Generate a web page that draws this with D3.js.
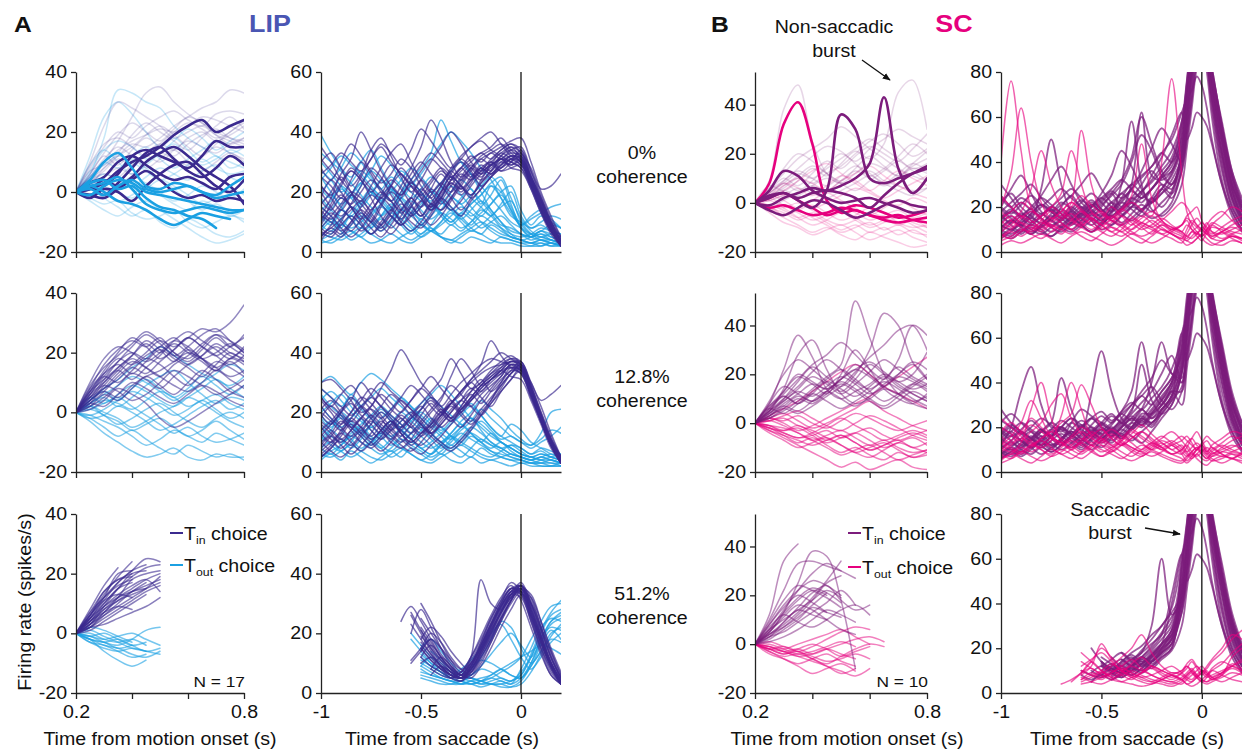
<!DOCTYPE html>
<html>
<head>
<meta charset="utf-8">
<script src="https://cdn.jsdelivr.net/npm/d3@7"></script>
<style>
  body { margin: 0; background: #fff; }
  svg { display: block; font-family: "Liberation Sans", Arial, Helvetica, sans-serif; }
</style>
</head>
<body>
<svg id="chart" width="1242" height="754"></svg>
<script>
// ---- time grids and ticks ----
const motionTimes = [0.2, 0.25, 0.3, 0.35, 0.4, 0.45, 0.5, 0.55, 0.6, 0.65, 0.7, 0.75, 0.8]
const lipSaccadeTimes = [-1, -0.95, -0.9, -0.85, -0.8, -0.75, -0.7, -0.65, -0.6, -0.55, -0.5, -0.45, -0.4,
  -0.35, -0.3, -0.25, -0.2, -0.15, -0.1, -0.05, 0, 0.05, 0.1, 0.15, 0.2]
const scSaccadeTimes = [-1, -0.95, -0.9, -0.85, -0.8, -0.75, -0.7, -0.65, -0.6, -0.55, -0.5, -0.45, -0.4,
  -0.35, -0.3, -0.25, -0.2, -0.15, -0.1, -0.075, -0.05, -0.025, 0, 0.025, 0.05, 0.1, 0.15, 0.2]

const motionXTicks = [0.2, 0.4, 0.6, 0.8]
const motionXLabels = ['0.2', '', '', '0.8']
const saccadeXTicks = [-1, -0.5, 0]
const saccadeXLabels = ['-1', '-0.5', '0']
const lipMotionYTicks = [-20, 0, 20, 40]
const lipSaccadeYTicks = [0, 20, 40, 60]
const scMotionYTicks = [-20, 0, 20, 40]
const scSaccadeYTicks = [0, 20, 40, 60, 80]
const coherenceLabels = ['0%', '12.8%', '51.2%']

// ---- 0% coherence ----
const lip0MotionTinBold = [
  [0, 1, 3, 7, 10, 12, 15, 19, 22, 24, 20, 22, 24],
  [0, -1, 2, 6, 12, 14, 12, 10, 8, 12, 17, 15, 15],
  [0, 2, -1, 3, 8, 13, 15, 11, 7, 5, 8, 12, 9],
  [0, -2, 1, 0, -3, 2, 6, 9, 10, 6, 2, 0, 4],
  [0, 1, 4, 2, 5, 10, 13, 15, 12, 8, 5, 2, -4],
  [0, 3, 5, 10, 12, 9, 6, 4, 5, 3, 1, 5, 6],
  [0, -1, -2, 1, 4, 7, 4, 0, -2, -1, -3, -2, -3],
]
const lip0MotionToutBold = [
  [0, 4, 10, 13, 8, 2, 1, 3, 2, 0, -1, 2, 5],
  [0, 2, 0, -3, -4, -6, -9, -11, -9, -7, -8, -9],
  [0, 3, 4, 1, 2, -2, -5, -6, -8, -9, -12],
  [0, -1, 2, 4, 3, 0, -1, -2, -3, -4, -5, -6, -6],
  [0, 1, -1, 2, 4, 1, 0, 1, 2, 0, -2, -1, 0],
  [0, 2, 3, 5, 1, -4, -6, -7, -6, -5, -6, -7, -6],
]
const lip0MotionTin = [
  [0, 8, 15, 20, 18, 22, 25, 27, 24, 22, 26, 27, 26],
  [0, 5, 10, 14, 17, 19, 21, 20, 22, 25, 24, 22, 20],
  [0, 10, 22, 30, 28, 25, 22, 18, 20, 22, 19, 17, 15],
  [0, 4, 8, 12, 16, 15, 18, 22, 25, 28, 30, 34, 33],
  [0, 3, 7, 11, 9, 13, 16, 14, 18, 20, 17, 19, 22],
  [0, 6, 12, 9, 14, 18, 15, 12, 16, 19, 21, 18, 16],
  [0, 2, 5, 8, 6, 10, 13, 11, 9, 12, 15, 13, 11],
  [0, 7, 9, 13, 19, 23, 20, 17, 14, 18, 22, 25, 21],
  [0, 4, 6, 5, 9, 12, 10, 14, 17, 15, 13, 16, 18],
  [0, 9, 16, 18, 15, 12, 16, 20, 23, 21, 18, 20, 24],
  [0, 3, 10, 17, 25, 33, 35, 30, 26, 23, 20, 18, 17],
  [0, 5, 11, 15, 12, 8, 11, 14, 10, 7, 10, 13, 10],
  [0, 6, 13, 19, 23, 20, 17, 21, 25, 23, 19, 16, 18],
  [0, 2, 8, 12, 15, 19, 22, 19, 15, 12, 16, 20, 23],
]
const lip0MotionTout = [
  [0, 12, 25, 30, 26, 20, 15, 18, 14, 10, 12, 8, 10],
  [0, 6, 18, 34, 33, 30, 28, 22, 18, 15, 12, 10, 8],
  [0, 2, -2, -5, -8, -6, -10, -12, -9, -11, -14, -15, -13],
  [0, 3, 6, 4, 2, 5, 8, 6, 4, 7, 9, 5, 3],
  [0, -2, -4, -3, -7, -9, -8, -6, -10, -12, -10, -8, -9],
  [0, 5, 9, 12, 10, 7, 4, 6, 9, 11, 8, 6, 7],
  [0, 1, -1, 2, 5, 3, 0, -3, -1, 2, 0, -2, 1],
  [0, -3, -6, -8, -5, -3, -6, -9, -12, -15, -17, -16, -14],
  [0, 4, 2, 0, -2, 1, 4, 2, -1, -4, -2, 1, -1],
  [0, 7, 14, 17, 15, 11, 13, 16, 12, 9, 11, 14, 12],
  [0, 9, 14, 10, 6, 9, 13, 17, 21, 18, 14, 17, 20],
  [0, -1, 3, 7, 11, 8, 4, 1, -3, -6, -4, -7, -10],
  [0, 5, 10, 8, 12, 15, 11, 8, 11, 14, 17, 13, 15],
  [0, -2, 1, -3, -1, 2, -1, -4, -6, -3, -5, -8, -6],
]
const lip0SaccadeTin = [
  [12, 18, 25, 20, 14, 10, 15, 22, 28, 24, 18, 15, 20, 26, 30, 27, 22, 25, 29, 31, 33, 25, 17, 9, 3],
  [30, 33, 28, 22, 26, 34, 38, 32, 25, 20, 24, 30, 35, 40, 36, 30, 27, 29, 31, 33, 32, 24, 16, 9, 4],
  [8, 6, 10, 15, 12, 8, 5, 9, 14, 18, 13, 9, 12, 17, 22, 26, 24, 27, 30, 29, 30, 23, 15, 8, 2],
  [20, 15, 12, 16, 22, 28, 25, 19, 14, 10, 8, 12, 18, 24, 28, 31, 33, 35, 38, 34, 31, 24, 17, 10, 5],
  [5, 9, 14, 11, 7, 10, 16, 20, 17, 12, 15, 21, 26, 22, 19, 23, 28, 30, 27, 28, 29, 22, 14, 7, 2],
  [25, 22, 18, 24, 30, 26, 20, 17, 22, 28, 35, 44, 38, 30, 25, 28, 32, 34, 36, 33, 30, 23, 15, 8, 3],
  [15, 12, 8, 5, 8, 13, 18, 15, 10, 7, 10, 15, 20, 25, 22, 18, 21, 25, 28, 30, 32, 25, 18, 10, 4],
  [10, 16, 22, 27, 24, 18, 12, 8, 12, 18, 24, 20, 16, 20, 25, 29, 26, 28, 32, 35, 31, 24, 16, 9, 3],
  [35, 30, 24, 20, 17, 22, 28, 33, 36, 30, 24, 20, 23, 28, 32, 35, 38, 40, 36, 32, 30, 22, 15, 8, 4],
  [18, 24, 20, 15, 10, 6, 9, 14, 20, 26, 30, 26, 22, 18, 14, 18, 24, 29, 33, 31, 29, 24, 17, 9, 4],
  [8, 12, 16, 20, 18, 14, 19, 24, 21, 16, 12, 16, 22, 27, 31, 28, 25, 29, 31, 30, 28, 22, 14, 7, 3],
  [22, 18, 14, 19, 25, 31, 35, 30, 26, 22, 18, 14, 17, 22, 26, 24, 27, 31, 34, 36, 33, 28, 21, 22, 26],
  [12, 10, 7, 10, 15, 19, 16, 12, 9, 12, 17, 21, 18, 14, 17, 22, 26, 29, 27, 30, 34, 27, 19, 11, 5],
  [28, 24, 30, 36, 32, 27, 23, 26, 31, 28, 22, 18, 14, 18, 23, 27, 31, 33, 35, 37, 38, 30, 20, 12, 5],
  [6, 8, 11, 14, 17, 13, 9, 6, 10, 15, 20, 24, 28, 25, 21, 24, 28, 26, 29, 32, 31, 23, 15, 8, 3],
  [16, 20, 26, 31, 40, 34, 27, 22, 19, 24, 29, 33, 30, 26, 22, 19, 23, 27, 31, 28, 27, 21, 13, 6, 2],
  [4, 7, 5, 9, 13, 10, 7, 11, 16, 13, 9, 13, 18, 15, 12, 17, 21, 25, 28, 31, 29, 22, 14, 7, 3],
  [26, 29, 33, 30, 27, 31, 36, 33, 29, 34, 41, 37, 32, 28, 31, 35, 37, 34, 32, 30, 28, 21, 13, 7, 2],
  [14, 11, 15, 19, 16, 12, 9, 13, 18, 22, 19, 15, 18, 23, 21, 25, 28, 26, 30, 32, 30, 22, 14, 7, 3],
  [9, 13, 10, 7, 11, 16, 20, 17, 13, 16, 21, 18, 22, 27, 24, 28, 31, 29, 32, 34, 32, 24, 15, 8, 3],
  [22, 19, 23, 27, 24, 20, 24, 29, 26, 22, 19, 23, 27, 25, 28, 32, 30, 33, 31, 34, 35, 27, 18, 10, 4],
  [5, 8, 6, 10, 14, 11, 8, 12, 9, 13, 17, 14, 19, 23, 20, 24, 27, 30, 28, 31, 30, 23, 14, 7, 2],
  [31, 27, 24, 28, 25, 21, 18, 22, 26, 23, 27, 31, 28, 24, 27, 30, 33, 31, 34, 36, 34, 26, 17, 9, 3],
  [17, 14, 18, 15, 11, 14, 18, 22, 19, 23, 20, 16, 20, 24, 28, 25, 29, 27, 31, 29, 31, 25, 18, 10, 4],
  [11, 15, 19, 16, 20, 24, 21, 17, 14, 18, 15, 19, 23, 20, 24, 28, 26, 30, 33, 35, 33, 25, 16, 8, 3],
  [7, 5, 9, 12, 9, 6, 10, 14, 11, 15, 12, 16, 14, 18, 22, 19, 23, 26, 29, 32, 31, 24, 15, 8, 3],
]
const lip0SaccadeTout = [
  [39, 33, 28, 25, 30, 34, 28, 22, 18, 22, 26, 31, 36, 40, 37, 33, 28, 24, 18, 12, 10, 8, 9, 7, 6],
  [10, 14, 18, 15, 11, 8, 12, 16, 13, 9, 6, 9, 13, 11, 8, 10, 14, 12, 8, 5, 4, 3, 4, 3, 2],
  [25, 20, 16, 19, 23, 27, 32, 29, 24, 20, 17, 14, 18, 22, 19, 15, 12, 16, 20, 22, 14, 9, 12, 10, 8],
  [4, 6, 9, 7, 5, 8, 11, 9, 6, 4, 6, 8, 5, 3, 5, 7, 6, 4, 3, 3, 2, 2, 3, 2, 2],
  [30, 26, 22, 18, 22, 27, 24, 20, 15, 12, 15, 19, 23, 27, 30, 26, 20, 14, 10, 7, 6, 5, 6, 4, 3],
  [15, 12, 9, 13, 17, 21, 18, 14, 11, 15, 19, 16, 12, 9, 12, 16, 19, 23, 25, 18, 11, 7, 5, 6, 5],
  [20, 24, 28, 33, 30, 25, 21, 17, 20, 24, 28, 33, 44, 37, 30, 26, 22, 18, 14, 10, 8, 6, 7, 9, 8],
  [8, 11, 7, 4, 6, 9, 12, 15, 11, 8, 5, 7, 10, 13, 10, 7, 9, 12, 15, 17, 10, 6, 4, 3, 3],
  [33, 30, 27, 23, 19, 15, 12, 15, 19, 23, 20, 16, 13, 10, 13, 16, 19, 22, 18, 13, 9, 11, 13, 15, 16],
  [12, 9, 14, 19, 23, 20, 16, 12, 9, 6, 9, 12, 16, 20, 24, 21, 17, 13, 9, 8, 6, 4, 5, 4, 3],
  [6, 5, 4, 6, 8, 6, 4, 3, 5, 7, 9, 7, 5, 4, 6, 8, 10, 8, 6, 5, 4, 3, 3, 2, 3],
  [24, 28, 32, 29, 26, 22, 19, 23, 27, 24, 20, 17, 21, 25, 22, 18, 15, 12, 16, 20, 12, 8, 10, 12, 11],
  [18, 14, 11, 8, 10, 13, 16, 20, 24, 28, 25, 21, 17, 14, 11, 14, 17, 14, 10, 6, 4, 5, 7, 6, 5],
  [3, 4, 6, 9, 12, 10, 8, 11, 14, 12, 9, 7, 9, 12, 15, 13, 10, 7, 5, 4, 3, 3, 2, 3, 2],
  [14, 17, 21, 18, 15, 19, 24, 21, 17, 13, 16, 20, 17, 14, 18, 21, 16, 22, 20, 14, 9, 12, 14, 11, 8],
  [9, 7, 11, 15, 13, 10, 7, 10, 14, 17, 14, 11, 14, 18, 16, 12, 15, 19, 24, 16, 8, 5, 7, 5, 4],
  [13, 10, 14, 11, 8, 12, 15, 12, 9, 13, 10, 7, 10, 14, 11, 8, 6, 9, 7, 5, 4, 3, 4, 3, 2],
  [21, 18, 22, 19, 16, 20, 17, 14, 18, 15, 12, 16, 13, 10, 13, 11, 8, 10, 12, 9, 6, 5, 6, 5, 4],
  [7, 10, 8, 12, 9, 6, 9, 13, 10, 7, 11, 8, 6, 9, 7, 10, 13, 16, 19, 14, 8, 5, 4, 4, 3],
  [16, 19, 15, 12, 16, 20, 17, 21, 18, 14, 11, 14, 18, 15, 12, 9, 12, 10, 8, 6, 5, 6, 8, 7, 6],
  [4, 3, 5, 7, 5, 3, 4, 6, 4, 3, 5, 7, 5, 4, 3, 5, 4, 3, 5, 4, 3, 2, 2, 3, 2],
  [27, 24, 20, 23, 27, 24, 21, 25, 22, 18, 21, 25, 22, 19, 16, 19, 22, 25, 21, 15, 9, 6, 5, 4, 3],
]
const sc0MotionTinBold = [
  [0, 2, 4, 1, -2, 5, 36, 30, 10, 8, 10, 12, 14],
  [0, -1, 2, 4, 6, 5, 7, 10, 16, 43, 14, 4, 10],
  [0, 5, 13, 11, 5, 2, 0, 1, 2, 0, -2, -4, -3],
  [0, 3, 4, 2, 4, 5, 4, 2, -2, 3, 8, 12, 15],
  [0, -3, -5, -2, 1, 0, -3, -6, -4, -1, 1, -1, -2],
]
const sc0MotionToutBold = [
  [0, 8, 32, 41, 24, 1, -4, -3, -5, -6, -5, -7, -8],
  [0, -2, -1, -3, -5, -4, -2, -3, -5, -7, -8, -7, -6],
  [0, 2, 4, 1, -2, -5, -3, -1, -2, -4, -6, -5, -3],
]
const sc0MotionTin = [
  [0, 9, 38, 48, 25, 12, 8, 10, 13, 9, 7, 5, 6],
  [0, 4, 9, 14, 19, 23, 21, 17, 22, 26, 30, 27, 24],
  [0, 6, 12, 18, 22, 26, 31, 27, 22, 18, 14, 11, 9],
  [0, 3, 6, 10, 8, 12, 15, 20, 25, 28, 24, 19, 22],
  [0, 5, 10, 7, 12, 17, 14, 19, 23, 20, 17, 22, 28],
  [0, 2, 5, 3, 7, 10, 8, 12, 16, 14, 11, 15, 18],
  [0, 7, 5, 9, 14, 11, 16, 21, 18, 24, 45, 50, 30],
  [0, 4, 8, 12, 10, 14, 18, 22, 26, 22, 18, 14, 16],
  [0, 1, 3, 6, 4, 2, 5, 8, 11, 8, 5, 3, 6],
  [0, -2, 1, 4, 7, 5, 9, 13, 10, 7, 10, 14, 12],
  [0, 6, 14, 20, 17, 12, 9, 14, 19, 15, 11, 16, 21],
  [0, 3, 8, 5, 9, 15, 20, 16, 11, 14, 19, 24, 20],
  [0, 5, 9, 13, 10, 7, 11, 15, 12, 8, 12, 16, 13],
  [0, 2, 7, 11, 15, 12, 8, 5, 9, 13, 17, 13, 9],
]
const sc0MotionTout = [
  [0, -3, -6, -9, -12, -10, -13, -15, -12, -14, -16, -18, -17],
  [0, -2, -4, -7, -5, -8, -11, -9, -12, -10, -13, -11, -14],
  [0, 2, -1, -4, -7, -5, -3, -6, -9, -7, -5, -8, -10],
  [0, -1, -5, -3, -6, -9, -12, -10, -8, -11, -9, -12, -13],
  [0, 3, 7, 10, 8, 5, 9, 12, 15, 11, 7, 4, 2],
  [0, 1, 3, 1, -2, 0, 3, 6, 4, 1, -1, 2, 0],
  [0, -4, -8, -10, -13, -11, -9, -12, -15, -13, -11, -14, -16],
  [0, 4, 8, 6, 3, 7, 11, 9, 5, 2, 5, 8, 11],
  [0, -1, -2, 0, -3, -5, -2, -4, -7, -5, -3, -6, -4],
  [0, 2, 5, 9, 13, 16, 12, 8, 5, 9, 13, 10, 7],
  [0, -2, -5, -3, -1, -4, -7, -5, -2, -4, -8, -10, -9],
  [0, 1, -2, -6, -9, -7, -4, -7, -10, -8, -6, -9, -12],
  [0, 3, 1, -2, 1, 4, 1, -2, -5, -2, 1, -2, -5],
  [0, -1, -3, -6, -4, -7, -9, -7, -4, -6, -9, -7, -10],
]
const sc0SaccadeTin = [
  [12, 10, 14, 18, 15, 11, 9, 13, 17, 14, 10, 12, 16, 20, 18, 15, 17, 22, 38, 55, 78, 98, 96, 86, 68, 40, 22, 12],
  [20, 28, 34, 26, 18, 14, 20, 25, 19, 15, 12, 18, 24, 30, 26, 22, 28, 35, 48, 66, 88, 102, 98, 90, 74, 46, 26, 15],
  [8, 6, 9, 12, 10, 7, 11, 15, 12, 9, 13, 17, 30, 58, 30, 19, 16, 20, 30, 46, 64, 82, 90, 88, 78, 52, 30, 18],
  [15, 18, 22, 19, 25, 32, 38, 30, 22, 18, 14, 20, 26, 22, 18, 24, 30, 28, 45, 62, 85, 100, 92, 80, 60, 32, 18, 10],
  [10, 14, 11, 8, 12, 16, 13, 10, 14, 18, 22, 26, 20, 30, 62, 34, 32, 36, 52, 70, 92, 105, 100, 92, 76, 48, 28, 16],
  [30, 24, 18, 15, 28, 50, 30, 18, 15, 20, 26, 34, 45, 38, 28, 22, 26, 32, 42, 56, 74, 90, 92, 84, 66, 38, 20, 12],
  [18, 22, 26, 30, 24, 19, 15, 18, 22, 26, 22, 18, 22, 28, 36, 46, 55, 48, 40, 52, 68, 84, 90, 86, 72, 44, 24, 14],
  [6, 9, 12, 10, 8, 11, 14, 18, 15, 12, 16, 20, 17, 14, 18, 24, 20, 26, 40, 58, 80, 96, 98, 90, 74, 50, 30, 20],
  [22, 26, 20, 16, 13, 17, 21, 25, 30, 35, 28, 22, 18, 22, 27, 32, 38, 45, 58, 72, 90, 104, 102, 94, 80, 54, 32, 18],
  [12, 10, 13, 17, 21, 18, 15, 12, 16, 20, 24, 20, 16, 20, 26, 34, 42, 52, 62, 50, 55, 62, 60, 56, 48, 30, 18, 10],
  [16, 12, 9, 13, 17, 14, 11, 15, 19, 23, 19, 15, 19, 24, 30, 36, 30, 26, 36, 52, 72, 94, 100, 94, 82, 56, 34, 20],
  [9, 13, 17, 14, 11, 15, 19, 16, 13, 17, 21, 25, 30, 40, 52, 45, 34, 30, 44, 64, 86, 100, 94, 84, 64, 36, 20, 12],
  [14, 18, 15, 12, 16, 20, 17, 14, 18, 22, 19, 16, 20, 24, 22, 28, 34, 40, 55, 75, 96, 108, 104, 96, 80, 50, 28, 15],
  [25, 20, 16, 20, 24, 21, 17, 13, 17, 21, 18, 22, 26, 30, 34, 38, 44, 50, 62, 68, 72, 78, 74, 64, 50, 30, 16, 9],
  [10, 8, 11, 15, 12, 9, 12, 16, 20, 17, 14, 18, 22, 19, 16, 22, 28, 24, 36, 50, 68, 88, 96, 92, 80, 58, 36, 22],
  [19, 15, 12, 16, 20, 24, 28, 24, 20, 16, 20, 26, 32, 42, 60, 48, 36, 30, 42, 60, 82, 98, 96, 86, 70, 44, 24, 13],
  [11, 14, 12, 9, 12, 15, 18, 15, 12, 9, 12, 16, 13, 17, 21, 18, 22, 27, 44, 64, 86, 100, 98, 90, 76, 50, 30, 18],
  [17, 13, 16, 19, 15, 12, 15, 19, 23, 19, 16, 19, 23, 27, 24, 28, 33, 38, 52, 70, 92, 104, 100, 92, 78, 52, 32, 20],
  [7, 10, 8, 11, 9, 7, 10, 13, 11, 14, 17, 14, 12, 15, 19, 22, 26, 30, 40, 58, 80, 98, 98, 92, 78, 54, 34, 22],
  [24, 20, 24, 21, 17, 20, 24, 28, 24, 20, 23, 27, 24, 28, 33, 38, 44, 40, 50, 68, 90, 102, 96, 88, 70, 42, 24, 14],
  [13, 16, 13, 17, 21, 18, 14, 17, 14, 18, 15, 12, 16, 20, 24, 28, 33, 36, 48, 66, 86, 100, 100, 94, 82, 56, 34, 20],
  [9, 7, 10, 8, 11, 14, 11, 9, 12, 15, 13, 16, 19, 22, 19, 23, 28, 34, 46, 64, 84, 98, 100, 94, 80, 56, 36, 24],
  [20, 17, 21, 25, 21, 18, 22, 19, 16, 20, 24, 28, 32, 28, 24, 28, 34, 40, 56, 74, 94, 104, 98, 88, 70, 44, 26, 15],
  [15, 19, 16, 13, 16, 19, 16, 20, 17, 21, 18, 22, 19, 23, 27, 31, 36, 42, 58, 76, 96, 106, 102, 94, 78, 50, 28, 16],
]
const sc0SaccadeTout = [
  [40, 76, 45, 20, 15, 12, 10, 14, 18, 15, 12, 9, 12, 15, 12, 10, 8, 10, 12, 14, 10, 8, 7, 9, 11, 10, 8, 6],
  [20, 35, 64, 40, 22, 15, 18, 22, 18, 14, 10, 13, 16, 13, 10, 12, 15, 12, 9, 7, 6, 8, 10, 8, 6, 5, 7, 5],
  [10, 14, 18, 28, 45, 30, 20, 15, 12, 15, 18, 14, 11, 8, 11, 14, 11, 8, 6, 5, 4, 6, 8, 10, 12, 9, 6, 4],
  [8, 6, 9, 12, 10, 13, 16, 22, 54, 30, 18, 15, 19, 25, 48, 24, 14, 11, 9, 7, 9, 11, 13, 11, 9, 8, 10, 12],
  [15, 18, 22, 19, 16, 20, 26, 45, 30, 18, 15, 20, 16, 12, 15, 18, 14, 10, 12, 16, 18, 20, 14, 10, 8, 11, 14, 16],
  [5, 7, 10, 8, 6, 9, 12, 10, 7, 5, 8, 11, 9, 6, 4, 7, 10, 8, 5, 3, 4, 6, 8, 6, 4, 3, 5, 4],
  [12, 16, 13, 10, 14, 18, 15, 20, 25, 21, 17, 14, 18, 22, 19, 16, 40, 77, 35, 18, 12, 9, 7, 10, 13, 11, 9, 8],
  [3, 5, 4, 6, 8, 6, 4, 7, 9, 7, 5, 3, 5, 8, 6, 4, 6, 9, 12, 15, 13, 11, 9, 12, 15, 18, 14, 10],
  [18, 14, 11, 9, 12, 15, 13, 10, 13, 17, 14, 11, 9, 12, 16, 13, 10, 8, 6, 10, 14, 12, 10, 8, 12, 16, 20, 18],
  [7, 10, 13, 11, 9, 12, 10, 8, 11, 15, 12, 9, 7, 10, 13, 11, 14, 18, 22, 20, 16, 12, 10, 13, 9, 6, 8, 10],
  [25, 20, 16, 13, 16, 20, 17, 14, 11, 9, 11, 14, 12, 9, 7, 9, 12, 9, 7, 5, 7, 9, 6, 4, 3, 5, 7, 6],
  [9, 12, 16, 14, 11, 14, 18, 22, 19, 15, 12, 15, 19, 16, 13, 11, 8, 6, 4, 8, 12, 15, 12, 9, 7, 9, 12, 14],
  [6, 9, 7, 10, 13, 11, 8, 12, 15, 12, 9, 7, 10, 14, 11, 8, 12, 10, 8, 6, 9, 7, 5, 8, 6, 9, 11, 9],
  [14, 11, 15, 18, 14, 11, 14, 17, 13, 10, 13, 16, 13, 10, 13, 16, 13, 11, 9, 12, 10, 8, 11, 9, 7, 9, 7, 6],
]

// ---- 12.8% coherence ----
const lip128MotionTin = [
  [0, 8, 16, 21, 24, 22, 25, 20, 18, 22, 26, 24, 21],
  [0, 5, 11, 17, 22, 26, 23, 19, 22, 26, 28, 24, 20],
  [0, 10, 18, 22, 20, 17, 20, 24, 22, 18, 15, 18, 21],
  [0, 3, 7, 12, 16, 20, 24, 22, 25, 28, 27, 30, 36],
  [0, 6, 10, 14, 11, 15, 19, 23, 20, 17, 14, 18, 16],
  [0, 2, 5, 9, 13, 11, 8, 12, 16, 19, 22, 19, 17],
  [0, 7, 12, 10, 14, 18, 16, 12, 9, 13, 17, 15, 12],
  [0, 4, 8, 13, 17, 15, 12, 9, 7, 10, 14, 11, 8],
  [0, 9, 15, 19, 23, 27, 24, 20, 17, 21, 25, 22, 26],
  [0, 3, 2, 6, 10, 8, 5, 3, 6, 9, 7, 4, 2],
  [0, 5, 9, 7, 4, 6, 10, 14, 12, 9, 6, 8, 11],
  [0, 1, 4, 8, 6, 3, -2, -5, -3, 0, 3, 6, 9],
  [0, 6, 13, 18, 16, 19, 22, 25, 21, 18, 20, 23, 20],
  [0, 4, 7, 5, 9, 12, 14, 17, 20, 18, 15, 12, 14],
  [0, 7, 14, 20, 25, 22, 18, 21, 25, 22, 19, 16, 19],
  [0, 2, 6, 4, 8, 12, 9, 6, 10, 14, 11, 7, 5],
  [0, 6, 12, 17, 20, 18, 22, 19, 16, 19, 23, 20, 18],
  [0, 4, 10, 15, 19, 23, 20, 24, 27, 24, 21, 18, 22],
  [0, 8, 13, 16, 13, 17, 21, 18, 15, 12, 16, 20, 17],
  [0, 5, 8, 11, 15, 13, 17, 21, 25, 22, 19, 22, 25],
  [0, 3, 9, 14, 18, 15, 12, 16, 19, 23, 26, 22, 19],
  [0, 7, 11, 15, 19, 24, 21, 17, 21, 18, 14, 17, 13],
]
const lip128MotionTout = [
  [0, 2, 4, 3, 1, 4, 7, 5, 2, 4, 6, 3, 1],
  [0, -2, -5, -8, -6, -9, -12, -14, -11, -13, -15, -14, -16],
  [0, 3, 6, 9, 12, 10, 7, 4, 7, 10, 13, 16, 14],
  [0, -1, -3, -5, -8, -11, -9, -6, -8, -10, -7, -9, -11],
  [0, 1, -1, -4, -2, 1, 3, 0, -3, -5, -2, 0, -2],
  [0, 4, 8, 11, 15, 18, 22, 19, 16, 13, 11, 9, 12],
  [0, -3, -7, -10, -13, -15, -14, -12, -15, -16, -14, -15, -15],
  [0, 2, 0, -2, -5, -3, 0, 2, 5, 3, 0, -3, -5],
  [0, 5, 3, 6, 9, 7, 4, 2, 5, 8, 11, 8, 5],
  [0, -2, -1, 2, 0, -3, -6, -4, -1, 2, 4, 1, 3],
  [0, 1, 3, 5, 2, -1, -4, -7, -5, -8, -10, -9, -7],
  [0, 3, 5, 2, 5, 9, 12, 14, 10, 6, 3, 5, 4],
  [0, -1, 1, 4, 7, 5, 2, -1, 1, 4, 1, -2, 0],
  [0, 2, -1, -3, -6, -4, -2, -5, -8, -6, -3, -6, -9],
  [0, 4, 7, 4, 8, 11, 8, 5, 8, 12, 9, 6, 9],
]
const lip128SaccadeTin = [
  [30, 31, 28, 24, 20, 22, 28, 34, 41, 36, 30, 26, 22, 26, 30, 33, 36, 38, 37, 36, 34, 26, 18, 10, 4],
  [12, 16, 20, 25, 22, 18, 14, 11, 15, 19, 23, 27, 31, 38, 33, 28, 30, 33, 35, 37, 36, 28, 19, 10, 4],
  [20, 17, 14, 18, 22, 19, 15, 12, 9, 7, 10, 14, 18, 22, 19, 16, 20, 24, 29, 33, 35, 27, 19, 11, 5],
  [8, 12, 16, 20, 24, 28, 25, 21, 18, 15, 12, 15, 19, 23, 27, 31, 34, 37, 40, 38, 35, 27, 18, 10, 4],
  [15, 11, 8, 11, 14, 18, 22, 26, 23, 19, 16, 12, 9, 7, 10, 14, 19, 24, 30, 35, 34, 26, 17, 9, 3],
  [5, 8, 12, 16, 13, 10, 7, 10, 14, 18, 22, 18, 15, 18, 22, 27, 31, 27, 30, 34, 33, 25, 17, 9, 3],
  [25, 22, 26, 29, 25, 21, 18, 21, 25, 29, 26, 22, 19, 23, 27, 31, 36, 44, 39, 35, 33, 25, 17, 9, 4],
  [10, 7, 5, 8, 12, 16, 20, 17, 14, 11, 9, 12, 16, 20, 24, 28, 25, 22, 27, 31, 35, 30, 24, 26, 29],
  [18, 22, 19, 15, 12, 9, 12, 16, 20, 24, 28, 32, 28, 24, 20, 17, 21, 25, 29, 33, 36, 28, 19, 11, 5],
  [6, 9, 13, 17, 15, 12, 16, 20, 24, 21, 17, 13, 10, 8, 11, 15, 19, 23, 27, 31, 34, 27, 18, 10, 4],
  [22, 18, 15, 12, 15, 19, 16, 13, 10, 13, 17, 21, 25, 29, 26, 22, 19, 23, 28, 33, 36, 29, 20, 12, 5],
  [14, 17, 21, 24, 30, 26, 22, 19, 16, 13, 16, 20, 24, 32, 38, 34, 29, 31, 34, 37, 35, 27, 18, 10, 4],
  [9, 12, 9, 6, 9, 13, 17, 14, 11, 8, 6, 9, 12, 16, 20, 24, 27, 30, 33, 35, 33, 26, 17, 9, 3],
  [28, 25, 22, 19, 22, 26, 30, 27, 24, 21, 18, 15, 19, 23, 27, 30, 33, 35, 36, 37, 37, 30, 22, 13, 5],
  [16, 13, 10, 14, 18, 22, 26, 23, 20, 24, 28, 25, 21, 18, 15, 19, 24, 28, 32, 36, 34, 26, 18, 10, 4],
  [24, 20, 16, 20, 25, 23, 19, 15, 12, 16, 21, 25, 22, 18, 21, 25, 29, 32, 34, 32, 31, 24, 16, 8, 3],
  [13, 10, 14, 18, 15, 11, 14, 17, 13, 10, 13, 16, 19, 23, 20, 24, 28, 31, 34, 37, 36, 28, 19, 10, 4],
  [21, 24, 20, 17, 21, 25, 22, 18, 15, 18, 21, 24, 20, 17, 21, 25, 29, 32, 35, 38, 37, 29, 20, 11, 4],
  [7, 10, 13, 10, 7, 10, 14, 17, 13, 9, 12, 16, 20, 17, 21, 24, 28, 31, 33, 36, 35, 27, 18, 9, 3],
  [17, 14, 11, 14, 18, 21, 18, 14, 17, 20, 16, 13, 16, 20, 24, 27, 30, 34, 37, 39, 36, 27, 17, 9, 3],
  [10, 13, 17, 14, 10, 8, 11, 15, 19, 16, 13, 16, 20, 23, 26, 30, 27, 31, 34, 35, 34, 26, 17, 9, 3],
  [25, 21, 18, 15, 18, 14, 11, 14, 18, 15, 19, 23, 20, 24, 21, 25, 29, 33, 36, 38, 36, 28, 18, 10, 4],
  [5, 8, 11, 9, 13, 17, 14, 10, 8, 11, 15, 13, 17, 21, 24, 22, 26, 29, 32, 36, 35, 27, 18, 10, 4],
  [19, 16, 20, 23, 19, 16, 13, 16, 13, 10, 13, 17, 21, 18, 22, 26, 23, 27, 31, 34, 37, 29, 19, 11, 5],
]
const lip128SaccadeTout = [
  [20, 23, 26, 22, 18, 15, 18, 21, 25, 22, 18, 15, 12, 9, 12, 15, 13, 10, 8, 6, 5, 4, 5, 4, 3],
  [10, 14, 18, 15, 12, 9, 12, 16, 20, 17, 14, 11, 8, 11, 15, 18, 16, 13, 10, 8, 6, 5, 6, 5, 4],
  [26, 22, 19, 16, 13, 10, 13, 17, 14, 11, 8, 6, 9, 12, 10, 8, 6, 5, 7, 9, 8, 6, 8, 7, 6],
  [5, 7, 9, 12, 10, 8, 6, 8, 11, 9, 7, 5, 7, 10, 13, 11, 9, 7, 5, 4, 3, 3, 2, 2, 2],
  [30, 32, 29, 26, 30, 33, 31, 28, 25, 22, 19, 16, 13, 11, 14, 17, 21, 18, 15, 12, 10, 8, 10, 12, 15],
  [15, 12, 10, 13, 16, 19, 22, 19, 16, 13, 10, 8, 10, 13, 17, 20, 24, 21, 18, 14, 11, 9, 13, 20, 21],
  [8, 10, 7, 5, 7, 10, 13, 11, 8, 6, 4, 6, 9, 7, 5, 8, 11, 9, 7, 5, 4, 3, 3, 4, 3],
  [18, 15, 20, 26, 22, 18, 15, 12, 15, 18, 21, 25, 22, 19, 16, 13, 10, 7, 6, 5, 4, 3, 4, 5, 6],
  [12, 9, 7, 10, 14, 11, 8, 5, 7, 10, 8, 6, 9, 12, 15, 18, 14, 10, 8, 9, 7, 5, 6, 5, 4],
  [24, 27, 24, 20, 17, 14, 11, 14, 17, 20, 23, 26, 29, 26, 22, 18, 15, 12, 10, 8, 6, 5, 4, 4, 3],
  [6, 5, 7, 9, 7, 5, 4, 6, 8, 6, 4, 3, 5, 7, 9, 7, 5, 4, 5, 6, 5, 4, 3, 3, 2],
  [22, 18, 15, 18, 22, 25, 28, 25, 22, 19, 16, 13, 10, 8, 11, 14, 17, 14, 11, 12, 10, 9, 11, 14, 13],
  [13, 16, 19, 16, 13, 16, 20, 17, 14, 17, 20, 17, 14, 17, 20, 23, 19, 15, 12, 16, 14, 10, 8, 6, 5],
  [11, 14, 11, 8, 11, 15, 12, 9, 12, 15, 12, 9, 6, 9, 7, 5, 8, 6, 5, 4, 4, 3, 3, 2, 2],
  [19, 16, 20, 17, 14, 11, 14, 17, 14, 11, 14, 18, 15, 12, 9, 12, 10, 8, 10, 7, 5, 4, 5, 4, 3],
  [8, 6, 9, 12, 15, 12, 9, 7, 10, 13, 16, 13, 10, 13, 16, 13, 10, 13, 10, 8, 6, 5, 4, 3, 3],
  [28, 25, 22, 25, 21, 18, 21, 18, 15, 18, 15, 12, 15, 12, 10, 13, 11, 9, 8, 6, 5, 4, 5, 6, 5],
  [14, 17, 14, 11, 8, 10, 8, 11, 14, 11, 8, 10, 13, 16, 19, 22, 19, 15, 12, 10, 8, 6, 7, 5, 4],
  [4, 6, 4, 7, 5, 3, 5, 7, 5, 8, 6, 4, 6, 4, 3, 5, 3, 4, 3, 2, 3, 2, 2, 2, 3],
]
const sc128MotionTin = [
  [0, 5, 14, 28, 34, 22, 12, 8, 10, 14, 12, 9, 11],
  [0, 8, 22, 36, 27, 14, 10, 13, 16, 20, 17, 14, 16],
  [0, 4, 10, 17, 23, 19, 15, 20, 30, 45, 40, 25, 18],
  [0, 6, 12, 18, 24, 28, 33, 28, 22, 18, 26, 40, 36],
  [0, 3, 8, 12, 16, 14, 18, 22, 25, 21, 17, 20, 29],
  [0, 5, 9, 13, 11, 15, 19, 16, 12, 15, 19, 17, 14],
  [0, 2, 6, 10, 8, 12, 16, 13, 9, 6, 9, 13, 10],
  [0, 7, 13, 19, 16, 12, 20, 30, 22, 14, 10, 8, 12],
  [0, 4, 7, 5, 9, 13, 10, 7, 11, 16, 20, 24, 18],
  [0, 9, 20, 26, 22, 17, 13, 18, 24, 20, 16, 12, 9],
  [0, 3, 6, 4, 7, 11, 15, 21, 27, 32, 38, 40, 30],
  [0, 6, 4, 8, 12, 9, 6, 9, 13, 17, 14, 10, 7],
  [0, 2, 5, 9, 14, 19, 24, 50, 35, 20, 12, 8, 6],
  [0, 5, 11, 8, 13, 18, 22, 18, 13, 9, 12, 16, 13],
  [0, 6, 13, 20, 17, 14, 18, 22, 19, 15, 20, 25, 22],
  [0, 4, 9, 14, 19, 16, 12, 16, 21, 26, 22, 18, 15],
  [0, 8, 15, 12, 9, 13, 17, 14, 10, 7, 11, 15, 19],
  [0, 3, 7, 11, 9, 13, 18, 24, 20, 15, 12, 16, 20],
  [0, 5, 10, 15, 21, 26, 22, 17, 14, 18, 23, 19, 16],
  [0, 7, 11, 8, 12, 17, 14, 11, 15, 19, 15, 12, 9],
]
const sc128MotionTout = [
  [0, -2, -5, -8, -6, -9, -12, -10, -13, -15, -12, -14, -13],
  [0, 1, -1, -4, -7, -5, -3, -6, -9, -7, -10, -12, -11],
  [0, -3, -6, -9, -12, -15, -18, -16, -19, -17, -15, -18, -19],
  [0, 2, 4, 1, -2, 0, 3, 6, 9, 5, 2, -1, -3],
  [0, -1, -3, -2, -5, -8, -6, -4, -7, -10, -8, -6, -9],
  [0, 3, 6, 9, 13, 17, 21, 24, 20, 15, 12, 9, 6],
  [0, -4, -7, -10, -8, -6, -9, -12, -14, -11, -8, -10, -12],
  [0, 1, 3, 5, 2, -1, -3, 0, 3, 1, -2, -5, -7],
  [0, -2, -4, -6, -4, -1, 2, -1, -4, -7, -5, -3, -5],
  [0, 2, 0, -3, -1, 2, 5, 8, 11, 15, 19, 23, 27],
  [0, -1, -2, -4, -7, -10, -13, -11, -9, -12, -15, -13, -11],
  [0, -3, -5, -7, -9, -7, -5, -8, -11, -9, -6, -4, -6],
  [0, -2, -3, -1, -4, -7, -5, -8, -11, -9, -7, -10, -8],
  [0, 1, 2, -1, -3, -6, -9, -12, -10, -8, -11, -14, -12],
  [0, -1, -4, -6, -5, -3, -6, -4, -2, -5, -7, -5, -3],
  [0, 2, 1, 3, 0, -2, 1, 4, 2, -1, -3, -1, 1],
]
const sc128SaccadeTin = [
  [28, 22, 18, 15, 12, 16, 20, 17, 14, 18, 22, 19, 16, 20, 24, 22, 28, 34, 48, 66, 88, 102, 98, 90, 74, 46, 26, 15],
  [12, 20, 36, 47, 30, 20, 20, 16, 13, 17, 21, 18, 15, 19, 23, 20, 26, 32, 38, 55, 78, 98, 96, 86, 68, 40, 22, 12],
  [10, 8, 11, 14, 18, 22, 42, 28, 18, 14, 11, 15, 19, 16, 13, 18, 24, 30, 44, 64, 86, 100, 94, 84, 64, 36, 20, 12],
  [15, 18, 14, 11, 14, 18, 15, 22, 28, 25, 22, 19, 24, 30, 34, 38, 32, 28, 36, 52, 72, 94, 100, 94, 82, 56, 34, 20],
  [8, 11, 9, 12, 16, 13, 10, 13, 17, 35, 54, 36, 24, 20, 26, 26, 30, 36, 52, 70, 92, 105, 100, 92, 76, 48, 28, 16],
  [20, 17, 14, 11, 15, 19, 16, 13, 10, 14, 18, 22, 27, 36, 58, 38, 30, 38, 55, 75, 96, 108, 104, 96, 80, 50, 28, 15],
  [14, 18, 22, 19, 16, 12, 15, 19, 23, 20, 17, 21, 26, 23, 28, 40, 58, 44, 40, 52, 68, 84, 90, 86, 72, 44, 24, 14],
  [6, 9, 12, 15, 12, 9, 12, 16, 13, 10, 14, 18, 15, 20, 25, 22, 28, 34, 62, 68, 72, 78, 74, 64, 50, 30, 16, 9],
  [18, 14, 11, 15, 19, 16, 20, 24, 21, 18, 22, 26, 22, 28, 34, 30, 36, 42, 58, 72, 90, 104, 102, 94, 80, 54, 32, 18],
  [11, 14, 18, 15, 12, 16, 19, 17, 14, 18, 15, 19, 23, 27, 48, 32, 26, 30, 45, 62, 85, 100, 92, 80, 60, 32, 18, 10],
  [9, 7, 10, 13, 11, 14, 17, 14, 11, 15, 19, 16, 20, 24, 21, 26, 32, 40, 62, 50, 55, 62, 60, 56, 48, 30, 18, 10],
  [16, 20, 17, 14, 18, 22, 19, 16, 20, 24, 20, 18, 22, 26, 31, 36, 44, 52, 40, 58, 80, 96, 98, 90, 74, 50, 30, 20],
  [12, 10, 13, 16, 14, 11, 14, 18, 15, 12, 16, 20, 17, 22, 28, 24, 30, 36, 30, 46, 64, 82, 90, 88, 78, 52, 30, 18],
  [22, 26, 22, 18, 15, 19, 23, 20, 17, 21, 25, 22, 26, 30, 36, 42, 50, 44, 42, 60, 82, 98, 96, 86, 70, 44, 24, 13],
  [7, 10, 8, 11, 14, 12, 15, 18, 16, 20, 17, 14, 18, 22, 20, 25, 30, 36, 36, 50, 68, 88, 96, 92, 80, 58, 36, 22],
  [13, 16, 12, 15, 18, 15, 12, 16, 20, 17, 13, 16, 20, 24, 21, 26, 32, 38, 50, 68, 90, 104, 100, 92, 76, 50, 30, 18],
  [8, 11, 14, 11, 8, 11, 14, 18, 15, 19, 16, 13, 17, 14, 18, 22, 26, 32, 44, 62, 84, 98, 98, 90, 76, 52, 32, 20],
  [19, 16, 19, 23, 19, 16, 13, 16, 20, 24, 21, 25, 22, 19, 23, 28, 34, 40, 56, 74, 94, 106, 102, 92, 74, 46, 26, 15],
  [10, 13, 10, 8, 11, 9, 12, 15, 12, 15, 19, 16, 20, 24, 28, 24, 28, 33, 46, 64, 86, 100, 96, 88, 72, 46, 27, 16],
  [23, 20, 17, 20, 24, 21, 18, 22, 19, 16, 20, 17, 21, 25, 22, 27, 33, 40, 54, 72, 92, 104, 98, 86, 66, 40, 22, 13],
  [15, 12, 15, 18, 14, 17, 20, 17, 21, 18, 14, 18, 22, 19, 24, 30, 36, 42, 52, 70, 90, 102, 100, 94, 80, 56, 34, 22],
  [6, 9, 7, 10, 13, 10, 14, 11, 14, 18, 15, 19, 16, 20, 24, 21, 27, 34, 48, 66, 88, 100, 100, 92, 78, 54, 32, 19],
  [17, 21, 18, 15, 19, 16, 20, 24, 20, 24, 27, 23, 27, 31, 28, 33, 38, 46, 60, 78, 96, 106, 100, 90, 72, 44, 24, 14],
]
const sc128SaccadeTout = [
  [10, 14, 18, 24, 20, 16, 13, 16, 20, 17, 14, 11, 14, 18, 15, 12, 10, 8, 10, 12, 9, 7, 9, 11, 9, 7, 9, 11],
  [18, 22, 18, 14, 11, 14, 25, 40, 28, 16, 13, 16, 13, 10, 8, 11, 14, 12, 9, 7, 9, 11, 8, 6, 8, 10, 12, 10],
  [6, 8, 11, 9, 12, 15, 13, 10, 8, 11, 14, 17, 14, 11, 9, 7, 9, 12, 14, 16, 13, 10, 12, 14, 11, 8, 6, 5],
  [12, 16, 22, 32, 24, 16, 13, 10, 13, 16, 19, 15, 12, 15, 18, 15, 11, 8, 6, 4, 6, 8, 10, 8, 6, 4, 6, 8],
  [24, 20, 16, 12, 15, 18, 15, 12, 9, 12, 15, 12, 9, 7, 10, 13, 11, 8, 10, 13, 15, 12, 10, 8, 10, 13, 16, 14],
  [4, 6, 9, 7, 5, 7, 10, 8, 6, 9, 12, 10, 7, 5, 7, 9, 7, 5, 4, 6, 8, 6, 4, 3, 5, 7, 6, 4],
  [14, 11, 9, 12, 15, 18, 22, 26, 39, 30, 20, 15, 12, 15, 18, 14, 11, 13, 16, 14, 12, 10, 12, 9, 7, 9, 11, 13],
  [9, 12, 15, 13, 10, 8, 11, 14, 12, 9, 7, 10, 13, 11, 9, 12, 15, 18, 14, 11, 8, 10, 13, 16, 14, 11, 9, 8],
  [20, 17, 14, 18, 22, 30, 35, 24, 17, 13, 16, 19, 16, 13, 10, 13, 16, 13, 10, 8, 6, 8, 6, 5, 7, 9, 8, 6],
  [8, 6, 9, 12, 10, 7, 9, 12, 15, 12, 9, 11, 14, 17, 21, 17, 13, 10, 8, 11, 15, 18, 14, 10, 8, 11, 14, 16],
  [16, 13, 17, 21, 18, 15, 12, 15, 18, 15, 12, 9, 12, 16, 13, 10, 12, 14, 11, 9, 11, 13, 11, 9, 12, 15, 18, 17],
  [5, 8, 6, 4, 7, 10, 8, 6, 9, 12, 10, 8, 6, 9, 12, 10, 8, 6, 5, 7, 9, 11, 9, 7, 5, 6, 8, 7],
  [11, 9, 13, 28, 40, 24, 14, 11, 14, 18, 15, 12, 15, 19, 16, 13, 10, 12, 8, 5, 7, 10, 8, 6, 9, 12, 10, 8],
  [13, 10, 8, 11, 14, 11, 8, 10, 13, 10, 7, 9, 12, 9, 7, 10, 13, 10, 12, 9, 7, 10, 12, 9, 11, 8, 6, 9],
]

// ---- 51.2% coherence (short traces) ----
const lip512MotionTin = [
  [0, 8, 16, 22],
  [0, 6, 13, 19, 24],
  [0, 5, 11, 17, 21, 25, 24],
  [0, 7, 14, 18, 20],
  [0, 4, 9, 13, 16, 18, 14],
  [0, 2, 6, 10, 14, 17],
  [0, 5, 10, 15, 17],
  [0, 3, 6, 9, 12, 15, 19],
  [0, 1, 4, 7, 10, 13],
  [0, 6, 11, 13, 12],
  [0, 2, 5, 8, 11, 14, 16],
  [0, 4, 7, 9, 8],
  [0, 3, 9, 15, 20, 21],
  [0, 2, 3, 5, 7, 9, 12],
  [0, 5, 12, 20, 21],
  [0, 3, 7, 12, 18, 20, 21],
  [0, 6, 12, 17, 21, 23],
  [0, 4, 10, 15, 19, 22, 23],
  [0, 7, 12, 16, 18],
  [0, 3, 8, 12, 15, 18, 20],
  [0, 5, 9, 12, 14, 15],
  [0, 6, 14, 18, 19],
  [0, 2, 7, 11, 13, 15, 17],
  [0, 4, 8, 11, 14, 16, 18],
]
const lip512MotionTout = [
  [0, -2, -3, -5, -4],
  [0, -3, -5, -6, -5, -6],
  [0, -1, -2, -1, 0, -2, -4],
  [0, -2, -6, -9, -11, -9],
  [0, 1, -1, -3, -5, -6, -7],
  [0, -1, -3, -4, -2, 1, 2],
  [0, -3, -4, -6, -8, -7],
  [0, 0, -2, -3, -2, -4],
  [0, 2, 1, -1, -3],
  [0, -2, -4, -5, -7, -8, -6],
  [0, -1, 0, -2, -4, -3],
  [0, -2, -3, -2, -4, -6, -5],
]
const lip512SaccadeTin = [
  [10, 14, 18, 15, 11, 8, 10, 15, 21, 27, 33, 35, 28, 19, 10, 4],
  [18, 22, 19, 14, 10, 7, 12, 18, 25, 31, 36, 30, 21, 12, 5],
  [25, 20, 15, 10, 6, 8, 14, 20, 27, 33, 35, 27, 18, 10, 4],
  [12, 16, 12, 8, 5, 9, 15, 22, 29, 34, 33, 25, 16, 8, 3],
  [20, 28, 22, 15, 9, 6, 11, 17, 24, 30, 35, 34, 26, 17, 9, 3],
  [8, 12, 9, 6, 10, 16, 23, 29, 34, 36, 28, 19, 10, 4],
  [30, 24, 17, 11, 7, 12, 38, 30, 28, 33, 37, 30, 21, 12, 5],
  [14, 18, 13, 9, 6, 5, 9, 15, 22, 28, 33, 30, 22, 14, 6],
  [22, 17, 12, 8, 5, 7, 13, 19, 26, 32, 36, 28, 18, 10, 4],
  [6, 9, 7, 5, 8, 14, 20, 27, 32, 35, 27, 18, 9, 3],
  [16, 12, 8, 5, 4, 8, 14, 21, 27, 32, 34, 26, 17, 9, 3],
  [27, 21, 15, 10, 7, 5, 8, 13, 19, 25, 31, 35, 31, 22, 13, 5],
  [11, 15, 20, 17, 12, 8, 6, 10, 17, 24, 30, 34, 32, 24, 15, 7],
  [9, 7, 5, 6, 11, 17, 24, 31, 36, 32, 22, 12, 5],
  [19, 15, 11, 8, 6, 10, 16, 23, 29, 34, 35, 27, 17, 9, 4],
  [24, 29, 24, 18, 12, 8, 6, 9, 15, 22, 28, 33, 34, 26, 17, 9, 3],
  [15, 11, 8, 6, 5, 9, 17, 25, 31, 37, 34, 25, 15, 7, 3],
  [12, 9, 7, 5, 6, 10, 16, 23, 30, 35, 34, 26, 17, 9, 4],
  [17, 13, 9, 6, 5, 8, 14, 21, 28, 34, 36, 29, 19, 10, 4],
  [21, 16, 11, 7, 5, 9, 15, 22, 29, 33, 32, 24, 15, 8, 3],
  [8, 6, 5, 7, 12, 18, 25, 31, 35, 33, 24, 14, 6, 3],
  [26, 20, 14, 9, 6, 5, 9, 16, 23, 30, 35, 36, 29, 19, 10, 4],
  [10, 12, 9, 6, 4, 7, 13, 20, 27, 33, 36, 30, 20, 11, 5],
  [15, 11, 8, 6, 7, 12, 19, 26, 32, 36, 31, 22, 13, 6, 3],
  [23, 18, 13, 9, 6, 5, 7, 12, 18, 25, 31, 35, 33, 24, 14, 6],
]
const lip512SaccadeTout = [
  [12, 9, 7, 5, 4, 3, 4, 5, 4, 3, 5, 10, 17, 23, 25],
  [15, 18, 14, 10, 7, 5, 4, 3, 3, 4, 6, 12, 20, 26, 28],
  [8, 6, 5, 4, 3, 3, 2, 3, 4, 3, 8, 15, 22, 25, 24],
  [20, 16, 12, 9, 7, 6, 8, 12, 18, 24, 22, 15, 10, 14, 20, 22],
  [10, 8, 6, 5, 7, 9, 11, 10, 8, 6, 5, 9, 16, 21, 18],
  [6, 5, 4, 3, 3, 4, 5, 6, 8, 10, 12, 14, 16, 15, 13],
  [14, 11, 8, 6, 5, 4, 5, 7, 9, 12, 18, 24, 29, 30],
  [9, 12, 10, 7, 5, 4, 3, 3, 2, 2, 4, 9, 14, 18, 17],
  [18, 14, 10, 7, 5, 4, 6, 9, 13, 17, 20, 16, 12, 18, 24, 27],
  [5, 4, 3, 3, 4, 5, 4, 3, 3, 2, 3, 7, 13, 19, 23],
  [11, 9, 7, 6, 8, 11, 15, 20, 23, 18, 12, 8, 12, 17, 20],
  [7, 6, 5, 4, 4, 3, 4, 6, 8, 6, 5, 10, 18, 24, 26],
  [13, 10, 8, 6, 5, 6, 8, 7, 5, 4, 6, 13, 21, 27, 31],
  [9, 7, 5, 4, 3, 4, 3, 4, 5, 4, 7, 12, 19, 22, 21],
]
const sc512MotionTin = [
  [0, 12, 34, 41],
  [0, 10, 22, 33, 34, 32, 30],
  [0, 5, 13, 25, 38, 36, 18, -10],
  [0, 4, 9, 15, 21, 24, 18, 14, 16],
  [0, 7, 13, 19, 23, 21, 17],
  [0, 3, 7, 12, 18, 25, 28],
  [0, 5, 11, 16, 14, 10, 6, 4],
  [0, 2, 6, 10, 15, 13, 11],
  [0, 8, 15, 20, 17, 13],
  [0, 4, 8, 13, 19, 26, 34],
  [0, 1, 3, 6, 10, 14, 12, 9],
  [0, 6, 12, 9, 7, 10, 14, 16, 12],
  [0, 3, 5, 9, 13, 17, 22, 16],
  [0, 6, 14, 22, 29, 33, 30, 27],
  [0, 5, 12, 18, 22, 20],
  [0, 8, 16, 22, 26, 24, 20],
  [0, 3, 9, 14, 12, 10],
  [0, 6, 10, 14, 18, 22, 19],
  [0, 4, 7, 11, 16, 21],
  [0, 9, 18, 24, 22, 19, 15],
]
const sc512MotionTout = [
  [0, -2, -4, -3, -6, -8, -5, -2, 0, -1],
  [0, -3, -6, -9, -12, -10, -8, -11],
  [0, -1, -2, 0, 2, 4, 6, 3, 0],
  [0, -2, -3, -5, -7, -9, -12, -10],
  [0, 1, -1, -3, -1, 2, 5, 7, 6],
  [0, -4, -6, -8, -6, -4, -7, -9],
  [0, -1, -3, -2, -4, -2, 0, 2, 3, 1],
  [0, -2, -1, -3, -5, -7, -6, -4, -6],
  [0, 0, -2, -4, -3, -1, 1, -1],
  [0, -3, -5, -4, -6, -9, -11, -13, -10],
  [0, -1, -3, -5, -4, -2, -4, -6],
  [0, -2, -4, -2, 0, -2, -5, -3, -1],
]
const sc512SaccadeTin = [
  [8, 6, 9, 12, 10, 13, 16, 14, 18, 22, 38, 55, 78, 98, 96, 86, 68, 40, 22, 12],
  [20, 14, 10, 8, 11, 14, 12, 16, 20, 48, 66, 88, 102, 98, 90, 74, 46, 26, 15],
  [12, 9, 7, 10, 13, 11, 15, 19, 30, 46, 64, 82, 90, 88, 78, 52, 30, 18],
  [6, 8, 11, 9, 12, 16, 20, 45, 62, 85, 100, 92, 80, 60, 32, 18, 10],
  [15, 12, 10, 14, 20, 28, 52, 70, 92, 105, 100, 92, 76, 48, 28, 16],
  [10, 13, 11, 14, 18, 30, 60, 35, 42, 56, 74, 90, 92, 84, 66, 38, 20, 12],
  [9, 7, 10, 13, 17, 22, 28, 40, 52, 68, 84, 90, 86, 72, 44, 24, 14],
  [5, 8, 6, 9, 12, 10, 14, 18, 24, 40, 58, 80, 96, 98, 90, 74, 50, 30, 20],
  [18, 14, 12, 16, 22, 40, 62, 68, 72, 78, 74, 64, 50, 30, 16, 9],
  [14, 11, 9, 12, 15, 13, 17, 22, 58, 72, 90, 104, 102, 94, 80, 54, 32, 18],
  [7, 10, 8, 11, 15, 19, 24, 36, 52, 72, 94, 100, 94, 82, 56, 34, 20],
  [12, 16, 20, 26, 44, 62, 50, 55, 62, 60, 56, 48, 30, 18, 10],
  [10, 8, 7, 9, 12, 15, 13, 17, 21, 26, 44, 64, 86, 100, 94, 84, 64, 36, 20, 12],
  [16, 13, 10, 8, 11, 14, 19, 25, 55, 75, 96, 108, 104, 96, 80, 50, 28, 15],
  [11, 9, 12, 16, 14, 18, 22, 36, 50, 68, 88, 96, 92, 80, 58, 36, 22],
  [8, 12, 15, 12, 16, 21, 27, 34, 42, 60, 82, 98, 96, 86, 70, 44, 24, 13],
  [9, 12, 10, 14, 17, 14, 18, 22, 26, 42, 60, 84, 100, 98, 90, 76, 50, 30, 18],
  [13, 10, 13, 16, 12, 16, 20, 24, 50, 68, 90, 104, 100, 92, 78, 52, 32, 20],
  [7, 9, 12, 10, 13, 17, 22, 28, 46, 64, 86, 100, 98, 90, 76, 52, 32, 19],
  [16, 12, 15, 18, 22, 26, 32, 56, 74, 94, 106, 102, 94, 78, 50, 28, 16],
  [10, 8, 11, 9, 12, 15, 19, 24, 30, 48, 66, 88, 102, 100, 92, 78, 54, 34, 21],
  [12, 15, 18, 15, 19, 24, 30, 36, 44, 60, 80, 96, 96, 88, 74, 50, 30, 18],
  [8, 11, 9, 13, 16, 20, 26, 40, 58, 82, 100, 98, 90, 76, 52, 32, 20],
  [14, 11, 14, 18, 21, 26, 30, 38, 60, 76, 96, 106, 100, 90, 72, 46, 26, 15],
]
const sc512SaccadeTout = [
  [4, 6, 9, 14, 20, 16, 12, 9, 7, 8, 10, 12, 9, 7, 6, 8, 10, 9, 7, 5, 7, 9],
  [8, 12, 22, 15, 10, 7, 9, 12, 10, 8, 6, 8, 10, 12, 9, 7, 8, 10, 12, 14],
  [10, 8, 6, 9, 12, 15, 11, 8, 6, 5, 7, 9, 11, 8, 6, 5, 6, 8, 16, 20],
  [6, 8, 10, 13, 10, 7, 5, 4, 6, 8, 10, 12, 10, 7, 5, 7, 10, 13, 18, 22],
  [12, 15, 18, 14, 10, 8, 6, 5, 7, 9, 8, 6, 5, 7, 9, 11, 14, 18, 24, 28],
  [5, 7, 9, 7, 5, 4, 3, 4, 6, 8, 6, 4, 3, 4, 6, 8, 10, 8, 6, 5],
  [14, 11, 9, 12, 16, 20, 26, 18, 12, 9, 10, 13, 15, 12, 10, 8, 11, 14, 12, 10],
  [7, 5, 4, 6, 8, 10, 8, 6, 5, 4, 6, 8, 10, 8, 6, 5, 7, 9, 11, 9],
  [9, 11, 8, 6, 5, 7, 9, 12, 10, 8, 6, 4, 5, 7, 9, 12, 15, 20, 26, 24],
  [4, 5, 7, 9, 11, 9, 7, 5, 4, 3, 5, 7, 9, 7, 5, 4, 5, 7, 9, 8],
  [18, 14, 10, 8, 10, 12, 10, 8, 6, 5, 4, 6, 8, 10, 12, 9, 6, 8, 12, 15],
  [5, 9, 14, 10, 7, 9, 13, 16, 12, 9, 7, 9, 11, 14, 11, 8, 10, 7, 9, 12, 10],
  [6, 9, 7, 10, 8, 6, 9, 11, 8, 6, 9, 12, 9, 7, 10, 8, 6, 9, 13, 11],
]

// ---- colours ----
const lipTinColor = '#3b2a8f'
const lipToutColor = '#1ba0e2'
const scTinColor = '#7c1c7c'
const scToutColor = '#e6007e'
const lipTitleColor = '#4a56b3'

// ---- layout ----
const SX = 1.12 // text in the figure is slightly stretched horizontally
const FS = 17.5
const colSpecs = [
  { x0: 76, x1: 244, xDomain: [0.2, 0.8], yDomain: [-20, 40], yTicks: lipMotionYTicks, xTicks: motionXTicks, xLabels: motionXLabels, times: motionTimes, alignEnd: false },
  { x0: 321, x1: 561, xDomain: [-1, 0.2], yDomain: [0, 60], yTicks: lipSaccadeYTicks, xTicks: saccadeXTicks, xLabels: saccadeXLabels, times: lipSaccadeTimes, alignEnd: true, zero: true },
  { x0: 755, x1: 927, xDomain: [0.2, 0.8], yDomain: [-20, 53.3], yTicks: scMotionYTicks, xTicks: motionXTicks, xLabels: motionXLabels, times: motionTimes, alignEnd: false },
  { x0: 1001, x1: 1242, xDomain: [-1, 0.2], yDomain: [0, 80], yTicks: scSaccadeYTicks, xTicks: saccadeXTicks, xLabels: saccadeXLabels, times: scSaccadeTimes, alignEnd: true, zero: true },
]
const rowSpecs = [[72, 252], [293, 472], [514, 693]]

const svg = d3.select('#chart')
const defs = svg.append('defs')
defs.append('marker')
  .attr('id', 'arrow')
  .attr('viewBox', '0 0 10 10')
  .attr('refX', 9)
  .attr('refY', 5)
  .attr('markerWidth', 8)
  .attr('markerHeight', 8)
  .attr('markerUnits', 'userSpaceOnUse')
  .attr('orient', 'auto')
  .append('path')
  .attr('d', 'M0,1L10,5L0,9z')
  .attr('fill', '#111')

const addText = (x, y, str, size, opts = {}) =>
  svg.append('text')
    .attr('transform', `translate(${x},${y}) scale(${SX},1)`)
    .attr('font-size', size)
    .attr('text-anchor', opts.anchor || 'middle')
    .attr('font-weight', opts.bold ? 'bold' : null)
    .attr('fill', opts.fill || '#111')
    .text(str)

const drawPanel = (ci, ri, series, showXLabels) => {
  const c = colSpecs[ci]
  const [top, bottom] = rowSpecs[ri]
  const x = d3.scaleLinear().domain(c.xDomain).range([c.x0, c.x1])
  const y = d3.scaleLinear().domain(c.yDomain).range([bottom, top])
  const id = `clip-${ci}-${ri}`
  defs.append('clipPath').attr('id', id)
    .append('rect')
    .attr('x', c.x0).attr('y', top)
    .attr('width', c.x1 - c.x0).attr('height', bottom - top)

  const g = svg.append('g')
  const line = d3.line()
    .x((d) => x(d[0]))
    .y((d) => y(d[1]))
    .curve(d3.curveCatmullRom.alpha(0.5))
  const plot = g.append('g').attr('clip-path', `url(#${id})`)

  series.forEach((s) => {
    plot.append('g')
      .attr('fill', 'none')
      .attr('stroke', s.color)
      .attr('stroke-width', s.width)
      .attr('stroke-opacity', s.opacity)
      .attr('stroke-linejoin', 'round')
      .attr('stroke-linecap', 'round')
      .selectAll('path')
      .data(s.traces)
      .join('path')
      .attr('d', (v) => {
        // saccade-aligned traces all end at +0.2 s, motion-aligned ones start at 0.2 s
        const off = c.alignEnd ? c.times.length - v.length : 0
        return line(v.map((val, i) => [c.times[off + i], val]))
      })
  })

  const yAxis = g.append('g')
    .attr('transform', `translate(${c.x0},0)`)
    .call(d3.axisLeft(y).tickValues(c.yTicks).tickSize(5).tickSizeOuter(0).tickPadding(3).tickFormat((d) => String(d)))
  const xAxis = g.append('g')
    .attr('transform', `translate(0,${bottom})`)
    .call(d3.axisBottom(x).tickValues(c.xTicks).tickSize(6).tickSizeOuter(0).tickPadding(7)
      .tickFormat((d, i) => (showXLabels ? c.xLabels[i] : '')))

  ;[yAxis, xAxis].forEach((a) => {
    a.attr('font-family', null).attr('font-size', FS)
    a.select('.domain').attr('stroke', '#222').attr('stroke-width', 1.3)
    a.selectAll('.tick line').attr('stroke', '#222').attr('stroke-width', 1.3)
    a.selectAll('.tick text').attr('fill', '#111').attr('transform', `scale(${SX},1)`)
  })

  if (c.zero) {
    g.append('line')
      .attr('x1', x(0)).attr('x2', x(0))
      .attr('y1', top).attr('y2', bottom)
      .attr('stroke', '#111').attr('stroke-width', 1.3)
  }
}

const thin = (traces, color, opacity, width = 1.5) => ({ traces, color, width, opacity })
const bold = (traces, color) => ({ traces, color, width: 2.6, opacity: 1 })

// row 1: 0% coherence
drawPanel(0, 0, [
  thin(lip0MotionTout, lipToutColor, 0.25),
  thin(lip0MotionTin, lipTinColor, 0.18),
  bold(lip0MotionTinBold, lipTinColor),
  bold(lip0MotionToutBold, lipToutColor),
], false)
drawPanel(1, 0, [
  thin(lip0SaccadeTout, lipToutColor, 0.7),
  thin(lip0SaccadeTin, lipTinColor, 0.68),
], false)
drawPanel(2, 0, [
  thin(sc0MotionTout, scToutColor, 0.2),
  thin(sc0MotionTin, scTinColor, 0.18),
  bold(sc0MotionToutBold, scToutColor),
  bold(sc0MotionTinBold, scTinColor),
], false)
drawPanel(3, 0, [
  thin(sc0SaccadeTin, scTinColor, 0.72, 1.8),
  thin(sc0SaccadeTout, scToutColor, 0.62),
], false)

// row 2: 12.8% coherence
drawPanel(0, 1, [
  thin(lip128MotionTout, lipToutColor, 0.55),
  thin(lip128MotionTin, lipTinColor, 0.55),
], false)
drawPanel(1, 1, [
  thin(lip128SaccadeTout, lipToutColor, 0.7),
  thin(lip128SaccadeTin, lipTinColor, 0.68),
], false)
drawPanel(2, 1, [
  thin(sc128MotionTout, scToutColor, 0.5),
  thin(sc128MotionTin, scTinColor, 0.5),
], false)
drawPanel(3, 1, [
  thin(sc128SaccadeTin, scTinColor, 0.72, 1.8),
  thin(sc128SaccadeTout, scToutColor, 0.62),
], false)

// row 3: 51.2% coherence
drawPanel(0, 2, [
  thin(lip512MotionTout, lipToutColor, 0.6),
  thin(lip512MotionTin, lipTinColor, 0.6),
], true)
drawPanel(1, 2, [
  thin(lip512SaccadeTout, lipToutColor, 0.7),
  thin(lip512SaccadeTin, lipTinColor, 0.68),
], true)
drawPanel(2, 2, [
  thin(sc512MotionTout, scToutColor, 0.5),
  thin(sc512MotionTin, scTinColor, 0.5),
], true)
drawPanel(3, 2, [
  thin(sc512SaccadeTin, scTinColor, 0.72, 1.8),
  thin(sc512SaccadeTout, scToutColor, 0.62),
], true)

// ---- labels ----
addText(14, 32, 'A', 22, { anchor: 'start', bold: true })
addText(270, 32, 'LIP', 24, { bold: true, fill: lipTitleColor })
addText(711, 32, 'B', 22, { anchor: 'start', bold: true })
addText(954, 32, 'SC', 24, { bold: true, fill: scToutColor })

const coherenceY = [159, 383, 600]
coherenceLabels.forEach((lab, i) => {
  addText(642, coherenceY[i], lab, FS)
  addText(642, coherenceY[i] + 24, 'coherence', FS)
})

addText(160, 745, 'Time from motion onset (s)', FS)
addText(442, 745, 'Time from saccade (s)', FS)
addText(847, 745, 'Time from motion onset (s)', FS)
addText(1127, 745, 'Time from saccade (s)', FS)

svg.append('text')
  .attr('transform', `translate(31,602) rotate(-90) scale(${SX},1)`)
  .attr('font-size', FS)
  .attr('text-anchor', 'middle')
  .attr('fill', '#111')
  .text('Firing rate (spikes/s)')

addText(245, 687, 'N = 17', 15.5, { anchor: 'end' })
addText(928, 687, 'N = 10', 15.5, { anchor: 'end' })

// legends
const legend = (x, y, color, sub) => {
  svg.append('line')
    .attr('x1', x).attr('x2', x + 13).attr('y1', y).attr('y2', y)
    .attr('stroke', color).attr('stroke-width', 2)
  const t = svg.append('text')
    .attr('transform', `translate(${x + 14},${y + 7}) scale(${SX},1)`)
    .attr('font-size', FS)
    .attr('fill', '#111')
  t.append('tspan').text('T')
  t.append('tspan').attr('font-size', 11).attr('dy', 4).text(sub)
  t.append('tspan').attr('dy', -4).text('\u00a0choice')
}
legend(170, 533, lipTinColor, 'in')
legend(170, 565, lipToutColor, 'out')
legend(848, 533, scTinColor, 'in')
legend(848, 567, scToutColor, 'out')

// annotations
addText(834, 33, 'Non-saccadic', FS)
addText(834, 57, 'burst', FS)
svg.append('line')
  .attr('x1', 862).attr('y1', 60).attr('x2', 890).attr('y2', 80)
  .attr('stroke', '#111').attr('stroke-width', 1.3)
  .attr('marker-end', 'url(#arrow)')

addText(1110, 516, 'Saccadic', FS)
addText(1110, 539, 'burst', FS)
svg.append('line')
  .attr('x1', 1145).attr('y1', 528).attr('x2', 1180).attr('y2', 534)
  .attr('stroke', '#111').attr('stroke-width', 1.3)
  .attr('marker-end', 'url(#arrow)')
</script>
</body>
</html>
